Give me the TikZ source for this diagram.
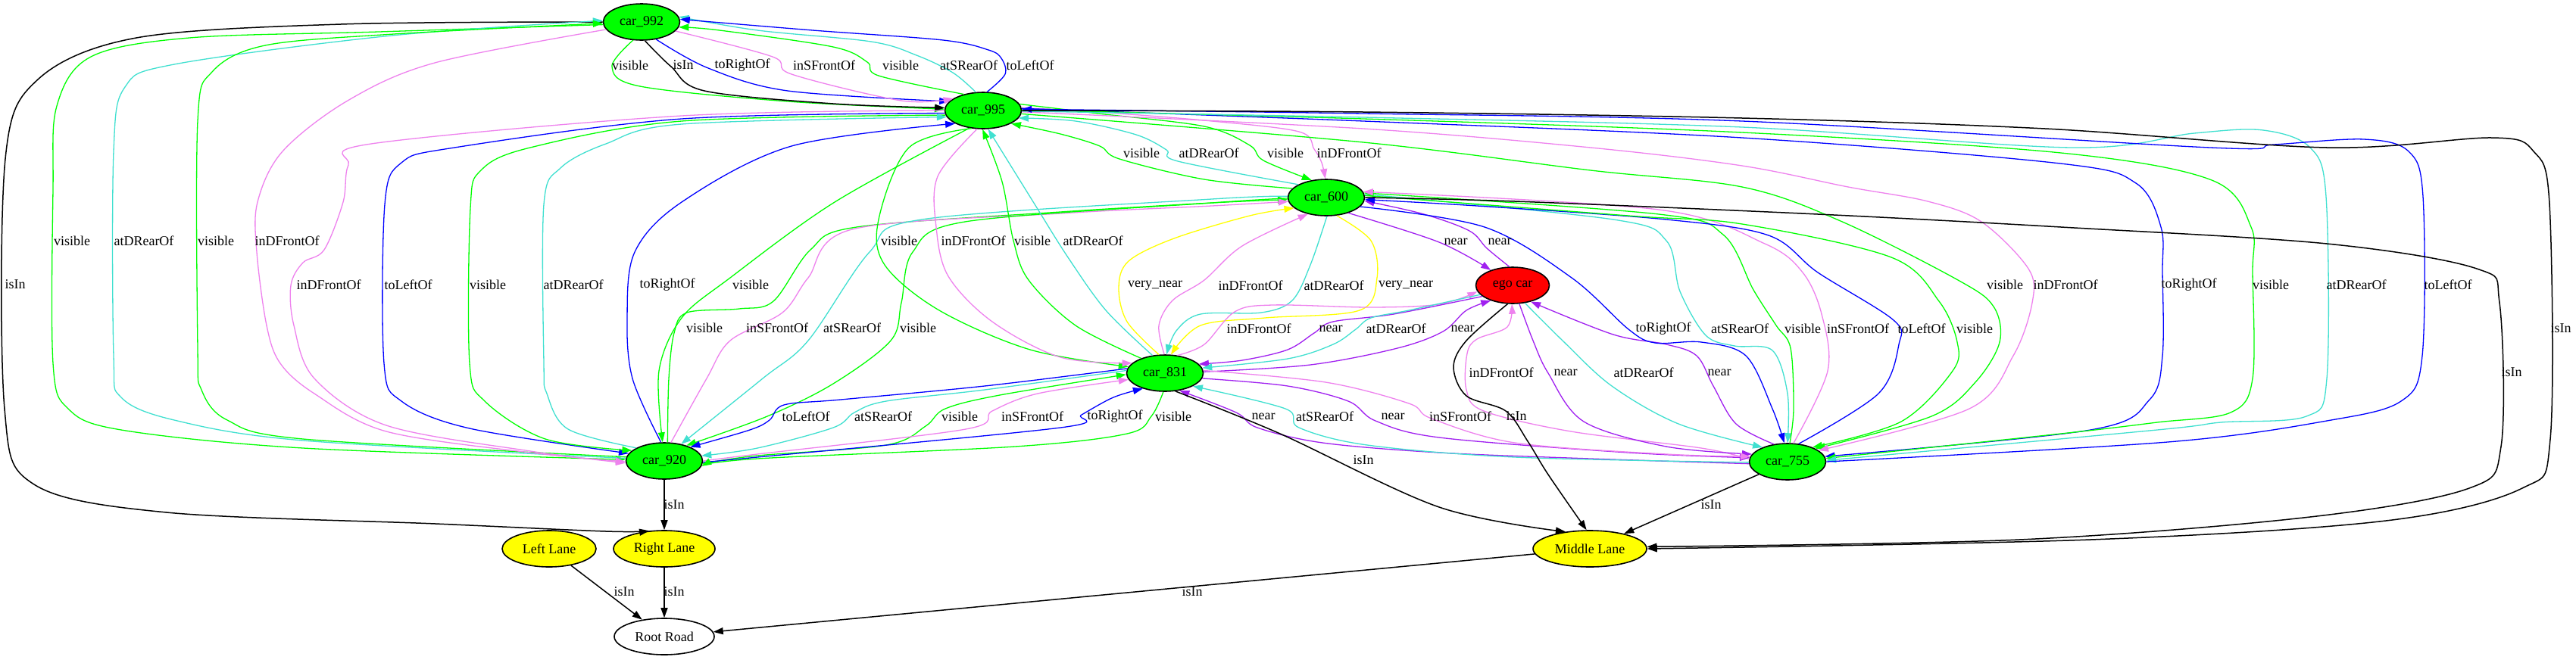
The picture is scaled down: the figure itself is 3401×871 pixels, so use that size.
\documentclass[tikz,border=0pt]{standalone}
\usepackage{fontspec}
\setmainfont{Liberation Serif}
\usetikzlibrary{shapes.geometric,arrows.meta}
\definecolor{gvturq}{RGB}{64,224,208}
\definecolor{gvviolet}{RGB}{238,130,238}
\definecolor{gvpurple}{RGB}{160,32,240}
\definecolor{gvgreen}{RGB}{0,255,0}
\definecolor{gvblue}{RGB}{0,0,255}
\definecolor{gvyellow}{RGB}{255,255,0}
\definecolor{gvred}{RGB}{255,0,0}
\begin{document}
\begin{tikzpicture}[x=1pt,y=-1pt,
  every node/.style={font=\fontsize{18}{20}\selectfont},
  gnode/.style={ellipse, draw=black, line width=1.6pt, minimum width=101pt, minimum height=48pt, inner sep=0pt},
  car/.style={gnode, fill=gvgreen},
  egonode/.style={gnode, fill=gvred, minimum width=97pt},
  lane/.style={gnode, fill=gvyellow},
  road/.style={gnode, fill=white, minimum width=132pt},
  lbl/.style={inner sep=0pt, text=black},
  edgebase/.style={line width=1.3pt, line join=round, -{Triangle[length=13pt,width=9pt]}},
  evis/.style={edgebase, gvgreen},
  eturq/.style={edgebase, gvturq},
  eviol/.style={edgebase, gvviolet},
  eblue/.style={edgebase, gvblue},
  epurp/.style={edgebase, gvpurple},
  eyel/.style={edgebase, gvyellow},
  eisin/.style={edgebase, black, line width=1.5pt},
  pl/.style={smooth, tension=0.55}
]
\fill[white] (0,0) rectangle (3401,871);
\useasboundingbox (0,0) rectangle (3401,871);

% nodes
\node[car] (c992) at (847,29) {car\_992};
\node[car] (c995) at (1298,146) {car\_995};
\node[car] (c600) at (1751,261) {car\_600};
\node[egonode] (ego) at (1997,377) {ego car};
\node[car] (c831) at (1538,493) {car\_831};
\node[car] (c920) at (877,609) {car\_920};
\node[car] (c755) at (2360,610) {car\_755};
\node[lane, minimum width=150pt] (ml) at (2099,725) {Middle Lane};
\node[lane, minimum width=134pt] (rl) at (877,725) {Right Lane};
\node[lane, minimum width=124pt] (ll) at (725,725) {Left Lane};
\node[road] (rr) at (877,841) {Root Road};

% ---- car_992 <-> car_995
\draw[evis] plot[pl] coordinates {(c992.245) (808,88) (845,114) (1040,134) (c995.178)};
\draw[eisin] plot[pl] coordinates {(c992.280) (886,88) (930,120) (1100,137) (c995.176)};
\draw[eblue] plot[pl] coordinates {(c992.310) (935,90) (1040,120) (c995.165)};
\draw[eviol] plot[pl] coordinates {(c992.345) (1020,75) (1045,98) (1190,133) (c995.158)};
\draw[evis] plot[pl] coordinates {(c995.140) (1160,100) (1145,82) (1100,62) (950,40) (c992.352)};
\draw[eturq] plot[pl] coordinates {(c995.112) (1258,96) (1210,73) (1150,55) (1000,40) (c992.8)};
\draw[eblue] plot[pl] coordinates {(c995.78) (1327,98) (1322,77) (1305,66) (1245,53) (1073,40) (c992.4)};

% ---- car_992 -> Right Lane
\draw[eisin] plot[pl] coordinates {(c992.180) (450,32) (180,50) (50,105) (7,210) (6,540) (45,640) (220,677) (575,692) (800,702) (rl.130)};

% ---- car_992 <-> car_920
\draw[evis] plot[pl] coordinates {(c992.184) (500,42) (250,50) (120,75) (75,140) (70,250) (70,480) (90,540) (160,568) (400,592) (c920.178)};
\draw[eturq] plot[pl] coordinates {(c920.176) (400,582) (230,555) (160,525) (150,470) (150,200) (165,115) (230,85) (517,47) (c992.178)};
\draw[evis] plot[pl] coordinates {(c920.174) (400,580) (300,555) (266,515) (261,460) (261,160) (280,95) (350,60) (520,45) (c992.182)};
\draw[eviol] plot[pl] coordinates {(c992.192) (574,83) (459,133) (373,200) (340,267) (339,333) (352,430) (370,480) (415,520) (510,570) (700,598) (c920.181)};

% ---- car_995 <-> car_920
\draw[eviol] plot[pl] coordinates {(c995.180) (900,153) (490,190) (460,218) (453,267) (428,330) (400,347) (384,377) (388,430) (415,500) (510,562) (700,596) (c920.183)};
\draw[eblue] plot[pl] coordinates {(c995.184) (900,157) (600,195) (530,215) (508,270) (507,480) (530,530) (620,566) (c920.168)};
\draw[evis] plot[pl] coordinates {(c995.187) (900,160) (700,195) (635,225) (621,275) (620,480) (640,530) (720,580) (c920.162)};
\draw[eturq] plot[pl] coordinates {(c920.155) (750,567) (722,520) (718,480) (718,270) (740,222) (800,190) (900,164) (c995.190)};
\draw[eblue] plot[pl] coordinates {(c920.100) (835,500) (828,420) (838,333) (900,267) (1045,193) (c995.205)};
\draw[evis] plot[pl] coordinates {(c995.232) (1102,267) (964,367) (900,420) (870,490) (c920.95)};

% ---- car_600 <-> car_920
\draw[evis] plot[pl] coordinates {(c920.80) (883,500) (890,440) (907,413) (976,408) (1021,398) (1070,330) (1131,300) (1400,280) (1600,268) (c600.183)};
\draw[eviol] plot[pl] coordinates {(c920.70) (933,500) (964,450) (1033,413) (1067,367) (1125,303) (1400,282) (1600,272) (c600.186)};
\draw[eturq] plot[pl] coordinates {(c600.178) (1600,263) (1217,290) (1148,333) (1067,450) (1007,500) (c920.45)};
\draw[evis] plot[pl] coordinates {(c600.181) (1600,268) (1274,293) (1205,333) (1190,400) (1176,450) (1100,507) (1013,550) (c920.35)};

% ---- car_995 <-> car_600
\draw[evis] plot[pl] coordinates {(c600.165) (1590,237) (1478,210) (1452,193) (1400,177) (c995.335)};
\draw[eturq] plot[pl] coordinates {(c600.155) (1555,213) (1540,198) (1500,178) (1420,160) (c995.348)};
\draw[evis] plot[pl] coordinates {(c995.10) (1450,150) (1590,167) (1650,192) (1668,212) (c600.130)};
\draw[eviol] plot[pl] coordinates {(c995.4) (1450,148) (1600,160) (1715,174) (1735,197) (1745,215) (c600.93)};

% ---- car_995 <-> car_831
\draw[evis] plot[pl] coordinates {(c995.237) (1200,195) (1160,290) (1168,350) (1240,410) (1360,462) (c831.170)};
\draw[eviol] plot[pl] coordinates {(c995.252) (1238,233) (1236,300) (1252,365) (1310,425) (1400,472) (c831.163)};
\draw[evis] plot[pl] coordinates {(c831.148) (1420,430) (1358,370) (1338,318) (1323,240) (c995.268)};
\draw[eturq] plot[pl] coordinates {(c831.125) (1460,410) (1410,340) (1368,273) (c995.285)};

% ---- car_600 <-> car_831
\draw[eyel] plot[pl] coordinates {(c831.108) (1488,425) (1477,380) (1490,345) (1550,315) (1650,285) (c600.198)};
\draw[eviol] plot[pl] coordinates {(c831.92) (1530,430) (1548,397) (1590,370) (1640,325) (c600.222)};
\draw[eturq] plot[pl] coordinates {(c600.272) (1730,350) (1706,397) (1665,413) (1585,415) (1553,437) (c831.85)};
\draw[eyel] plot[pl] coordinates {(c600.300) (1810,318) (1818,367) (1795,410) (1670,420) (1585,430) (c831.72)};

% ---- car_600 <-> ego
\draw[epurp] plot[pl] coordinates {(c600.325) (1900,320) (ego.145)};
\draw[epurp] plot[pl] coordinates {(ego.100) (1963,328) (1940,305) (1880,283) (c600.355)};

% ---- car_831 <-> ego
\draw[eviol] plot[pl] coordinates {(c831.55) (1590,455) (1630,412) (1680,403) (1810,406) (1900,402) (ego.190)};
\draw[epurp] plot[pl] coordinates {(ego.200) (1840,415) (1760,425) (1735,440) (1700,462) (1640,476) (c831.15)};
\draw[eturq] plot[pl] coordinates {(ego.196) (1860,410) (1810,420) (1790,435) (1760,455) (1700,474) (c831.8)};
\draw[epurp] plot[pl] coordinates {(c831.2) (1730,482) (1845,460) (1905,438) (1936,410) (ego.215)};

% ---- ego <-> car_755
\draw[eviol] plot[pl] coordinates {(c755.176) (2246,592) (2074,570) (1959,543) (1936,515) (1937,467) (1950,448) (1990,432) (ego.268)};
\draw[epurp] plot[pl] coordinates {(ego.290) (2024,450) (2044,493) (2091,557) (2200,590) (c755.168)};
\draw[eturq] plot[pl] coordinates {(ego.305) (2063,450) (2128,510) (2216,560) (c755.150)};
\draw[epurp] plot[pl] coordinates {(c755.128) (2292,560) (2262,510) (2240,470) (2200,455) (2130,442) (ego.318)};

% ---- car_831 <-> car_755
\draw[epurp] plot[pl] coordinates {(c755.183) (2100,606) (1900,598) (1746,585) (1660,565) (1632,545) (c831.310)};
\draw[eturq] plot[pl] coordinates {(c755.181) (2000,604) (1805,588) (1715,565) (1697,540) (c831.335)};
\draw[epurp] plot[pl] coordinates {(c831.352) (1700,510) (1780,530) (1816,556) (1900,578) (2150,598) (c755.174)};
\draw[eviol] plot[pl] coordinates {(c831.4) (1750,505) (1860,533) (1890,553) (2000,585) (2200,600) (c755.172)};

% ---- car_831 <-> car_920
\draw[eblue] plot[pl] coordinates {(c831.173) (1300,510) (1110,528) (1035,535) (1016,555) (990,568) (c920.28)};
\draw[eturq] plot[pl] coordinates {(c831.176) (1300,515) (1170,530) (1128,545) (1100,565) (1000,592) (c920.8)};
\draw[evis] plot[pl] coordinates {(c920.356) (1000,602) (1170,588) (1222,563) (1248,540) (1320,522) (c831.182)};
\draw[eviol] plot[pl] coordinates {(c920.0) (1000,600) (1275,567) (1310,543) (1370,520) (c831.190)};
\draw[eblue] plot[pl] coordinates {(c920.358) (1000,604) (1400,565) (1428,548) (1470,525) (c831.215)};
\draw[evis] plot[pl] coordinates {(c831.265) (1520,550) (1488,573) (1340,590) (1000,606) (c920.352)};

% ---- car_600 <-> car_755
\draw[eblue] plot[pl] coordinates {(c600.345) (1960,300) (2075,367) (2150,435) (2185,453) (2246,452) (2305,470) (2340,540) (c755.100)};
\draw[eturq] plot[pl] coordinates {(c600.5) (2130,290) (2200,318) (2218,385) (2252,443) (2290,457) (2340,463) (2360,520) (c755.90)};
\draw[evis] plot[pl] coordinates {(c755.83) (2368,540) (2364,460) (2345,430) (2315,383) (2275,310) (2190,283) (c600.7)};
\draw[eviol] plot[pl] coordinates {(c755.72) (2413,490) (2405,415) (2380,360) (2330,322) (2190,277) (c600.9)};
\draw[eblue] plot[pl] coordinates {(c755.58) (2480,520) (2507,455) (2500,423) (2400,360) (2335,311) (2200,290) (1950,272) (c600.357)};
\draw[evis] plot[pl] coordinates {(c600.3) (2150,285) (2300,296) (2497,340) (2560,398) (2584,452) (2578,490) (2510,557) (c755.30)};

% ---- car_995 <-> car_755
\draw[evis] plot[pl] coordinates {(c995.355) (1800,188) (2100,225) (2300,247) (2430,292) (2585,370) (2632,405) (2640,452) (2608,505) (2550,550) (c755.25)};
\draw[eviol] plot[pl] coordinates {(c995.358) (1800,170) (2100,195) (2300,219) (2440,247) (2545,266) (2616,293) (2678,355) (2683,400) (2658,470) (2600,540) (c755.20)};
\draw[eblue] plot[pl] coordinates {(c995.3) (1800,160) (2300,182) (2720,216) (2820,242) (2853,300) (2855,360) (2855,470) (2838,528) (2760,568) (c755.8)};
\draw[evis] plot[pl] coordinates {(c995.1) (1800,157) (2300,175) (2721,202) (2920,238) (2972,300) (2974,360) (2974,500) (2945,545) (2848,558) (2721,573) (c755.5)};
\draw[eturq] plot[pl] coordinates {(c995.359) (1800,155) (2300,168) (2735,195) (2897,176) (2988,172) (3050,195) (3071,260) (3072,500) (3045,550) (2932,558) (2848,568) (c755.2)};
\draw[eblue] plot[pl] coordinates {(c755.0) (2862,584) (3072,556) (3170,530) (3198,470) (3199,260) (3180,200) (3121,184) (3002,191) (2918,195) (2300,160) (1800,150) (c995.2)};

% ---- isIn edges
\draw[eisin] plot[pl] coordinates {(c995.0) (1800,148) (2300,156) (2700,170) (3072,195) (3290,182) (3345,200) (3366,270) (3367,580) (3330,645) (3150,688) (2760,713) (ml.0)};
\draw[eisin] plot[pl] coordinates {(c600.0) (2000,266) (2400,283) (2721,300) (3072,322) (3270,355) (3300,400) (3302,590) (3260,645) (3050,683) (2666,713) (ml.2)};
\draw[eisin] plot[pl] coordinates {(c831.300) (1690,573) (1900,670) (ml.145)};
\draw[eisin] plot[pl] coordinates {(ego.255) (1936,450) (1919,485) (1936,523) (1988,543) (2017,583) (2044,627) (ml.100)};
\draw[eisin] (c755) -- (ml);
\draw[eisin] (c920) -- (rl);
\draw[eisin] (ll) -- (rr);
\draw[eisin] (rl) -- (rr);
\draw[eisin] (ml) -- (rr);

% ---- labels
\node[lbl] (t01) at (832,86) {visible};
\node[lbl] (t02) at (902,86) {isIn};
\node[lbl] (t03) at (980,86) {toRightOf};
\node[lbl] (t04) at (1088,86) {inSFrontOf};
\node[lbl] (t05) at (1189,86) {visible};
\node[lbl] (t06) at (1279,86) {atSRearOf};
\node[lbl] (t07) at (1360,86) {toLeftOf};

\node[lbl] (t08) at (1507,202) {visible};
\node[lbl] (t09) at (1596,202) {atDRearOf};
\node[lbl] (t10) at (1697,202) {visible};
\node[lbl] (t11) at (1781,202) {inDFrontOf};

\node[lbl] (t12) at (95,318) {visible};
\node[lbl] (t13) at (190,318) {atDRearOf};
\node[lbl] (t14) at (285,318) {visible};
\node[lbl] (t15) at (379,318) {inDFrontOf};
\node[lbl] (t16) at (1187,318) {visible};
\node[lbl] (t17) at (1285,318) {inDFrontOf};
\node[lbl] (t18) at (1363,318) {visible};
\node[lbl] (t19) at (1443,318) {atDRearOf};
\node[lbl] (t20) at (1922,319) {near};
\node[lbl] (t21) at (1980,319) {near};

\node[lbl] (t22) at (20,376) {isIn};
\node[lbl] (t23) at (434,376) {inDFrontOf};
\node[lbl] (t24) at (539,376) {toLeftOf};
\node[lbl] (t25) at (644,376) {visible};
\node[lbl] (t26) at (757,376) {atDRearOf};
\node[lbl] (t27) at (881,376) {toRightOf};
\node[lbl] (t28) at (991,376) {visible};
\node[lbl] (t29) at (1525,377) {very\_near};
\node[lbl] (t30) at (1651,377) {inDFrontOf};
\node[lbl] (t31) at (1761,377) {atDRearOf};
\node[lbl] (t32) at (1856,377) {very\_near};
\node[lbl] (t33) at (2647,376) {visible};
\node[lbl] (t34) at (2727,376) {inDFrontOf};
\node[lbl] (t35) at (2890,376) {toRightOf};
\node[lbl] (t36) at (2998,376) {visible};
\node[lbl] (t37) at (3111,376) {atDRearOf};
\node[lbl] (t38) at (3232,376) {toLeftOf};

\node[lbl] (t39) at (930,433) {visible};
\node[lbl] (t40) at (1026,433) {inSFrontOf};
\node[lbl] (t41) at (1125,433) {atSRearOf};
\node[lbl] (t42) at (1212,433) {visible};
\node[lbl] (t43) at (1662,434) {inDFrontOf};
\node[lbl] (t44) at (1757,434) {near};
\node[lbl] (t45) at (1843,434) {atDRearOf};
\node[lbl] (t46) at (1931,434) {near};
\node[lbl] (t47) at (2196,434) {toRightOf};
\node[lbl] (t48) at (2297,434) {atSRearOf};
\node[lbl] (t49) at (2380,434) {visible};
\node[lbl] (t50) at (2453,434) {inSFrontOf};
\node[lbl] (t51) at (2537,434) {toLeftOf};
\node[lbl] (t52) at (2607,434) {visible};
\node[lbl] (t53) at (3381,434) {isIn};

\node[lbl] (t54) at (1982,492) {inDFrontOf};
\node[lbl] (t55) at (2067,492) {near};
\node[lbl] (t56) at (2170,492) {atDRearOf};
\node[lbl] (t57) at (2270,492) {near};
\node[lbl] (t58) at (3316,492) {isIn};

\node[lbl] (t59) at (1064,550) {toLeftOf};
\node[lbl] (t60) at (1166,550) {atSRearOf};
\node[lbl] (t61) at (1267,550) {visible};
\node[lbl] (t62) at (1363,550) {inSFrontOf};
\node[lbl] (t63) at (1472,550) {toRightOf};
\node[lbl] (t64) at (1549,550) {visible};
\node[lbl] (t65) at (1668,550) {near};
\node[lbl] (t66) at (1749,550) {atSRearOf};
\node[lbl] (t67) at (1839,550) {near};
\node[lbl] (t68) at (1928,550) {inSFrontOf};
\node[lbl] (t69) at (2002,550) {isIn};

\node[lbl] (t70) at (1800,608) {isIn};
\node[lbl] (t71) at (890,667) {isIn};
\node[lbl] (t72) at (2259,667) {isIn};
\node[lbl] (t73) at (824,782) {isIn};
\node[lbl] (t74) at (890,782) {isIn};
\node[lbl] (t75) at (1574,782) {isIn};
\end{tikzpicture}
\end{document}
